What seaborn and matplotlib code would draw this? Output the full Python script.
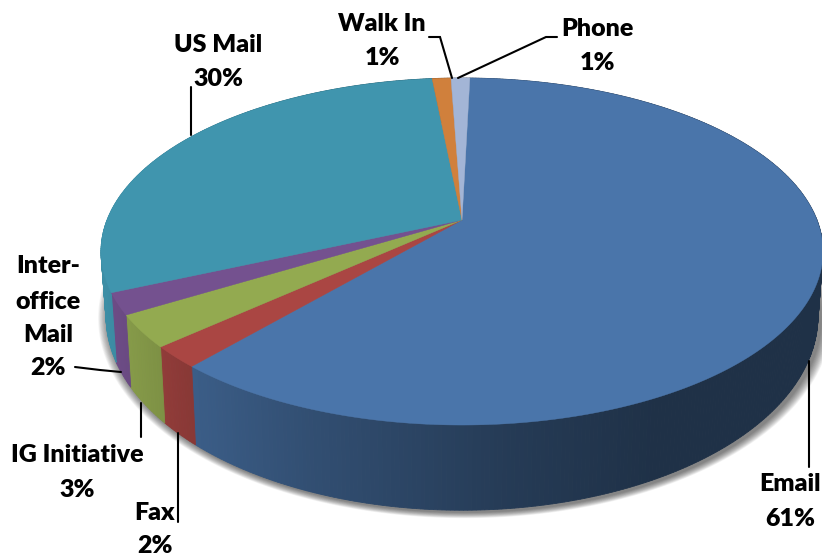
import numpy as np
import seaborn as sns
import matplotlib
matplotlib.use("Agg")
import matplotlib.pyplot as plt

# Correspondence by channel, clockwise from twelve o'clock
channels = ["Email", "Fax", "IG Initiative", "Inter-office Mail", "US Mail", "Walk In", "Phone"]
shares = [61, 2, 3, 2, 30, 1, 1]
slice_colors = ["#4a75aa", "#aa4643", "#93aa50", "#74518f", "#4095ae", "#d0803c", "#a3b5d6"]

# label text, centre position of each line, and leader polyline per channel
label_lines = {
    "Email": [("Email", 790, 484), ("61%", 790, 519)],
    "Fax": [("Fax", 155, 513), ("2%", 155, 546)],
    "IG Initiative": [("IG Initiative", 77, 455), ("3%", 77, 490)],
    "Inter-office Mail": [("Inter-", 48, 266), ("office", 48, 302), ("Mail", 48, 335), ("2%", 48, 368)],
    "US Mail": [("US Mail", 218, 45), ("30%", 218, 79)],
    "Walk In": [("Walk In", 382, 24), ("1%", 382, 58)],
    "Phone": [("Phone", 597, 29), ("1%", 597, 63)],
}
leaders = {
    "Email": [(809, 361), (809, 467)],
    "Fax": [(178, 433), (178, 522)],
    "IG Initiative": [(141, 403), (141, 437)],
    "Inter-office Mail": [(75, 367), (100, 370), (121, 372)],
    "US Mail": [(191, 87), (191, 135)],
    "Walk In": [(429, 37), (440, 37), (452, 78)],
    "Phone": [(557, 37), (546, 37), (458, 78)],
}

# Perspective used for the upper and lower faces of the disc
KEEN = 0.1816
CX = 462
START_ANGLE = np.deg2rad(1.5)
TOP_FACE = dict(cy=220, a=167.8, b=355)
BOTTOM_FACE = dict(cy=281, a=187.6, b=350)


def project(theta, radius, face):
    """Map a clockwise angle and radius on the unit disc to axes coordinates."""
    u = radius * np.sin(theta)
    v = radius * np.cos(theta)
    w = 1 + KEEN * v
    return CX + face["b"] * u / w, face["cy"] - face["a"] * v / w


def wall_shade(x):
    """Light falls from the left: the side wall darkens towards the right."""
    return np.interp(x, [105, 170, 200, 300, 500, 650], [0.95, 0.84, 0.79, 0.68, 0.51, 0.42])


sns.set_theme(style="white")
plt.rcParams["font.family"] = ["Lato", "DejaVu Sans"]
palette = sns.color_palette(slice_colors)

fig = plt.figure(figsize=(8.22, 5.56), dpi=100)
ax = fig.add_axes([0, 0, 1, 1])
ax.set_xlim(0, 822)
ax.set_ylim(556, 0)
ax.axis("off")

edges = START_ANGLE + np.concatenate([[0], np.cumsum(shares)]) / np.sum(shares) * 2 * np.pi

# Soft drop shadow under the disc
ring = np.linspace(0, 2 * np.pi, 361)
sx, sy = project(ring, 1.0, BOTTOM_FACE)
for step in range(14, 0, -1):
    grow = 1 + step * 0.0022
    ax.fill(CX + (sx - CX) * grow + 3, 316 + (sy - 316) * grow + 2,
            color="black", alpha=0.045, lw=0, zorder=1)

# Side wall, split into narrow strips so the shading can vary along it
for start, stop, col in zip(edges[:-1], edges[1:], palette):
    n = max(2, int((stop - start) / 0.01))
    ts = np.linspace(start, stop, n + 1)
    for t0, t1 in zip(ts[:-1], ts[1:]):
        x0, y0 = project(np.array([t0, t1]), 1.0, TOP_FACE)
        x1, y1 = project(np.array([t1, t0]), 1.0, BOTTOM_FACE)
        shade = wall_shade((x0.mean() + x1.mean()) / 2)
        strip = np.clip(np.array(col) * shade, 0, 1)
        ax.fill(np.r_[x0, x1], np.r_[y0, y1], color=strip, lw=0.6, ec=strip, zorder=2)

# Upper face
for start, stop, col in zip(edges[:-1], edges[1:], palette):
    ts = np.linspace(start, stop, max(4, int((stop - start) / 0.01)))
    x, y = project(ts, 1.0, TOP_FACE)
    ax.fill(np.r_[CX, x], np.r_[TOP_FACE["cy"], y], color=col, lw=0.3, ec=col, zorder=3)

# Leader lines and labels
for name in channels:
    pts = np.array(leaders[name])
    ax.plot(pts[:, 0], pts[:, 1], color="black", lw=1.5, zorder=4, solid_joinstyle="miter")
    for text, x, y in label_lines[name]:
        ax.text(x, y, text, ha="center", va="center", fontsize=18,
                fontweight="heavy", color="black", zorder=5)

fig.savefig("out.png", dpi=100)
